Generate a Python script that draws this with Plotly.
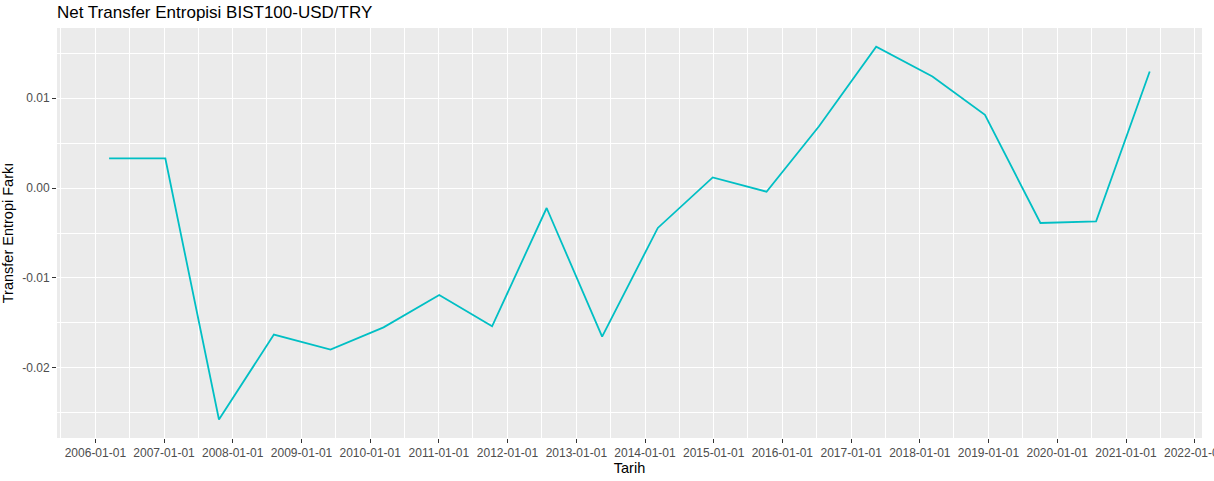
import plotly.graph_objects as go

# Net transfer entropy series
tarih = [
    "2006-03-15", "2007-01-08", "2007-10-20", "2008-08-07", "2009-06-04",
    "2010-03-13", "2011-01-03", "2011-10-11", "2012-07-27", "2013-05-18",
    "2014-03-10", "2014-12-27", "2015-10-09", "2016-07-13", "2017-05-14",
    "2018-03-09", "2018-12-13", "2019-10-04", "2020-07-26", "2021-05-07",
]
net_te = [
    0.00329, 0.00329, -0.02574, -0.01630, -0.01797,
    -0.01549, -0.01189, -0.01538, -0.00222, -0.01652,
    -0.00444, 0.00118, -0.00041, 0.00684, 0.01573,
    0.01240, 0.00814, -0.00389, -0.00371, 0.01296,
]

y_tick_vals = [-0.02, -0.01, 0.0, 0.01]
y_tick_text = ["-0.02", "-0.01", "0.00", "0.01"]

font = "Liberation Sans, Arial, sans-serif"

fig = go.Figure()
fig.add_trace(go.Scatter(
    x=tarih, y=net_te, mode="lines",
    line=dict(color="#00BFC4", width=1.8),
    showlegend=False,
))

fig.update_layout(
    width=1214, height=481,
    margin=dict(l=57, r=12, t=28, b=43),
    paper_bgcolor="white",
    plot_bgcolor="#EBEBEB",
    font=dict(family=font, color="#4D4D4D"),
    title=dict(
        text="Net Transfer Entropisi BIST100-USD/TRY",
        x=57 / 1214, xanchor="left", xref="container",
        y=1 - 6 / 481, yanchor="top", yref="container",
        pad=dict(l=0, r=0, t=0, b=0),
        font=dict(size=17, color="black", family=font),
    ),
)

fig.update_xaxes(
    type="date", automargin=False,
    range=["2005-06-11", "2022-02-09"],
    tick0="2006-01-01", dtick="M12", tickformat="%Y-%m-%d",
    tickfont=dict(size=12, color="#4D4D4D"),
    ticklabeloverflow="allow",
    ticks="outside", ticklen=4, tickcolor="#333333", tickwidth=1,
    showgrid=True, gridcolor="white", gridwidth=1.1,
    minor=dict(dtick="M6", tick0="2006-01-01", showgrid=True,
               gridcolor="white", gridwidth=0.5),
    zeroline=False, showline=False,
    title=dict(text="Tarih", font=dict(size=14.5, color="black"), standoff=1),
)

fig.update_yaxes(
    automargin=False,
    range=[-0.0278, 0.0178],
    tickvals=y_tick_vals, ticktext=y_tick_text,
    tickfont=dict(size=12, color="#4D4D4D"),
    ticks="outside", ticklen=4, tickcolor="#333333", tickwidth=1,
    showgrid=True, gridcolor="white", gridwidth=1.1,
    minor=dict(dtick=0.005, tick0=0, showgrid=True,
               gridcolor="white", gridwidth=0.5),
    zeroline=False, showline=False,
    title=dict(text="Transfer Entropi Farkı", font=dict(size=14.5, color="black"),
               standoff=5),
)

fig.write_html("out.html", config={"displayModeBar": False},
               post_script="document.body.style.margin='0';")
